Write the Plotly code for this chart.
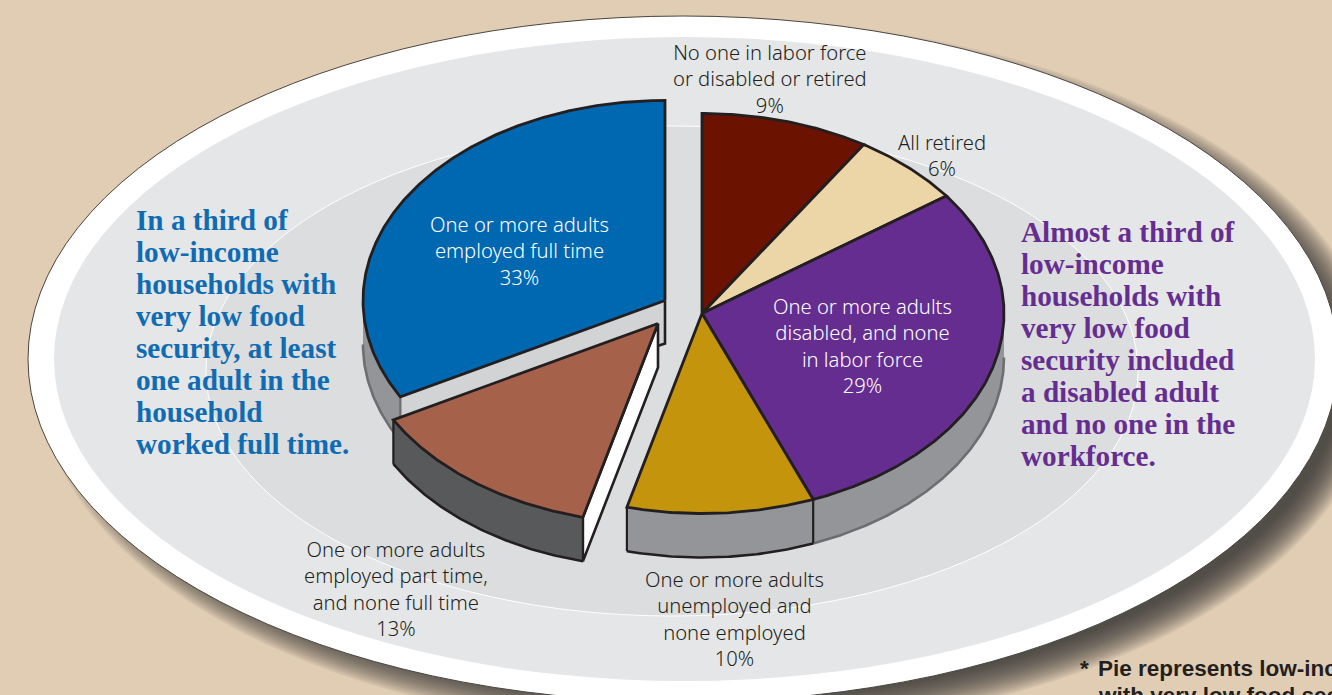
import numpy as np
import plotly.graph_objects as go

# Share of low-income households with very low food security, by labor-force status
categories = [
    ["No one in labor force", "or disabled or retired"],
    ["All retired"],
    ["One or more adults", "disabled, and none", "in labor force"],
    ["One or more adults", "unemployed and", "none employed"],
    ["One or more adults", "employed part time,", "and none full time"],
    ["One or more adults", "employed full time"],
]
values = [9, 6, 29, 10, 13, 33]

left_note = ["In a third of", "low-income", "households with", "very low food",
             "security, at least", "one adult in the", "household", "worked full time."]
right_note = ["Almost a third of", "low-income", "households with", "very low food",
              "security included", "a disabled adult", "and no one in the", "workforce."]
footnote = ["Pie represents low-income households", "with very low food security"]

# Styling
slice_colors = ["#6b1300", "#ecd6a8", "#652d90", "#c4940c", "#a5614a", "#0067b1"]
rim_colors = [None, None, "#939598", "#939598", "#58595b", "#939598"]
rim_lines = [None, None, "#6d6e71", "#231f20", "#231f20", "#6d6e71"]
explode = [(0, 0), (0, 0), (0, 0), (0, 0), (-44, 10), (-37, -13)]
label_color = ["#231f20", "#231f20", "#ffffff", "#231f20", "#231f20", "#ffffff"]
label_x = [770, 942, 862, 734, 396, 519]
label_mid_y = [78, 155, 345, 618, 588, 250]
INK = "#231f20"
CX, CY, RX, RY, DEPTH = 702, 313.5, 302, 200, 44
SANS = "Noto Sans"
SERIF = "Liberation Serif"

fig = go.Figure()


def arc(a, b, ox, oy, drop=0.0):
    t = np.radians(np.linspace(a, b, max(int(abs(b - a) * 2), 2)))
    return CX + ox + RX * np.sin(t), CY + oy + drop - RY * np.cos(t)


def poly(x, y, fill, line=None, width=2.6):
    fig.add_trace(go.Scatter(
        x=list(x), y=list(y), mode="lines", fill="toself", fillcolor=fill,
        line=dict(color=line or fill, width=width if line else 0),
        hoverinfo="skip", showlegend=False))


def stroke(x, y, color=INK, width=2.6):
    fig.add_trace(go.Scatter(x=list(x), y=list(y), mode="lines",
                             line=dict(color=color, width=width),
                             hoverinfo="skip", showlegend=False))


# Slice angles, clockwise from twelve o'clock
edges = np.concatenate([[0], np.cumsum(values)]) * 3.6

# Blue slice sits furthest back, then the rest in front of its cut face
draw_order = [5, 0, 1, 2, 3, 4]
for i in draw_order:
    a, b = edges[i], edges[i + 1]
    ox, oy = explode[i]
    ax, ay = CX + ox, CY + oy
    lo, hi = max(a, 90), min(b, 270)
    if i == 5:
        # Cut face that runs from the rim back to the apex
        ex, ey = arc(a, a, ox, oy)
        poly([ex[0], ax, ax, ex[0]], [ey[0], ay, ay + DEPTH, ey[0] + DEPTH - 1], "#d1d3d4")
        stroke([ax, ax, ax - 9], [ay, ay + DEPTH - 1, ay + DEPTH + 2])
    if i == 4:
        # Exposed white cut face
        ex, ey = arc(a, a, ox, oy)
        poly([ax, ax, ex[0], ex[0], ax], [ay, ay + DEPTH, ey[0] + DEPTH, ey[0], ay],
             "#ffffff", INK)
    if rim_colors[i] and lo < hi:
        tx, ty = arc(lo, hi, ox, oy)
        bx, by = arc(lo, hi, ox, oy, DEPTH)
        poly(np.r_[tx, bx[::-1]], np.r_[ty, by[::-1]], rim_colors[i])
        stroke(bx, by, rim_lines[i], 2.6)
        for k in (0, -1):
            if (k == 0 and lo == a) or (k == -1 and hi == b):
                side = INK if rim_lines[i] == INK or i == 2 else "#6d6e71"
                if not (i == 2 and k == -1):
                    stroke([tx[k], bx[k]], [ty[k], by[k]], side, 2.2)
    tx, ty = arc(a, b, ox, oy)
    poly(np.r_[ax, tx, ax], np.r_[ay, ty, ay], slice_colors[i], INK, 2.8)

# Backdrop: soft drop shadow built from stacked translucent ellipses,
# then the white plate, grey ellipse and inner ellipse
PLATE = dict(x0=28, x1=1338, y0=16, y1=702)
shapes = []
STEPS = 26
for k in range(STEPS):
    grow = 14 - 36 * k / (STEPS - 1)
    shapes.append(dict(type="circle", xref="x", yref="y", layer="below",
                       x0=PLATE["x0"] + 24 - grow, x1=PLATE["x1"] + 24 + grow,
                       y0=PLATE["y0"] + 17 - grow, y1=PLATE["y1"] + 17 + grow,
                       fillcolor="rgba(55,55,50,0.06)", line=dict(width=0)))
shapes.append(dict(type="circle", xref="x", yref="y", layer="below",
                   fillcolor="#ffffff", line=dict(color="#4a4540", width=1), **PLATE))
shapes.append(dict(type="circle", xref="x", yref="y", layer="below",
                   x0=54, x1=1315, y0=37, y1=681, fillcolor="#e5e6e8",
                   line=dict(width=0)))
shapes.append(dict(type="circle", xref="x", yref="y", layer="below",
                   x0=206, x1=1138, y0=126, y1=616, fillcolor="#dcddde",
                   line=dict(color="#ffffff", width=1)))

annotations = []


def put(x, y, text, size, color, family=SANS, anchor="center", bold=False, weight=None):
    font = dict(family=family, size=size, color=color)
    if weight:
        font["weight"] = weight
    annotations.append(dict(
        x=x, y=y, xref="x", yref="y", text=f"<b>{text}</b>" if bold else text,
        showarrow=False, xanchor=anchor, yanchor="middle", align="center" if anchor == "center" else "left",
        font=font))


for i, lines in enumerate(categories):
    put(label_x[i], label_mid_y[i], "<br>".join(lines + [f"{values[i]}%"]),
        20.2, label_color[i], weight=300)

for j, s in enumerate(left_note):
    put(134, 220 + j * 32, s, 29.2, "#0f6cb3", SERIF, "left", True)
for j, s in enumerate(right_note):
    put(1019, 232 + j * 32, s, 29.2, "#662d91", SERIF, "left", True)
put(1078, 668, "*", 22.5, INK, "Liberation Sans", "left", True)
put(1096, 668, footnote[0], 22.5, INK, "Liberation Sans", "left", True)
put(1096, 695, footnote[1], 22.5, INK, "Liberation Sans", "left", True)

fig.update_layout(
    width=1332, height=695, autosize=False,
    margin=dict(l=0, r=0, t=0, b=0),
    paper_bgcolor="#e1cdb4", plot_bgcolor="rgba(0,0,0,0)",
    showlegend=False, shapes=shapes, annotations=annotations,
    xaxis=dict(range=[0, 1332], visible=False, fixedrange=True),
    yaxis=dict(range=[695, 0], visible=False, fixedrange=True),
)
fig.write_html("out.html", config=dict(displayModeBar=False))
